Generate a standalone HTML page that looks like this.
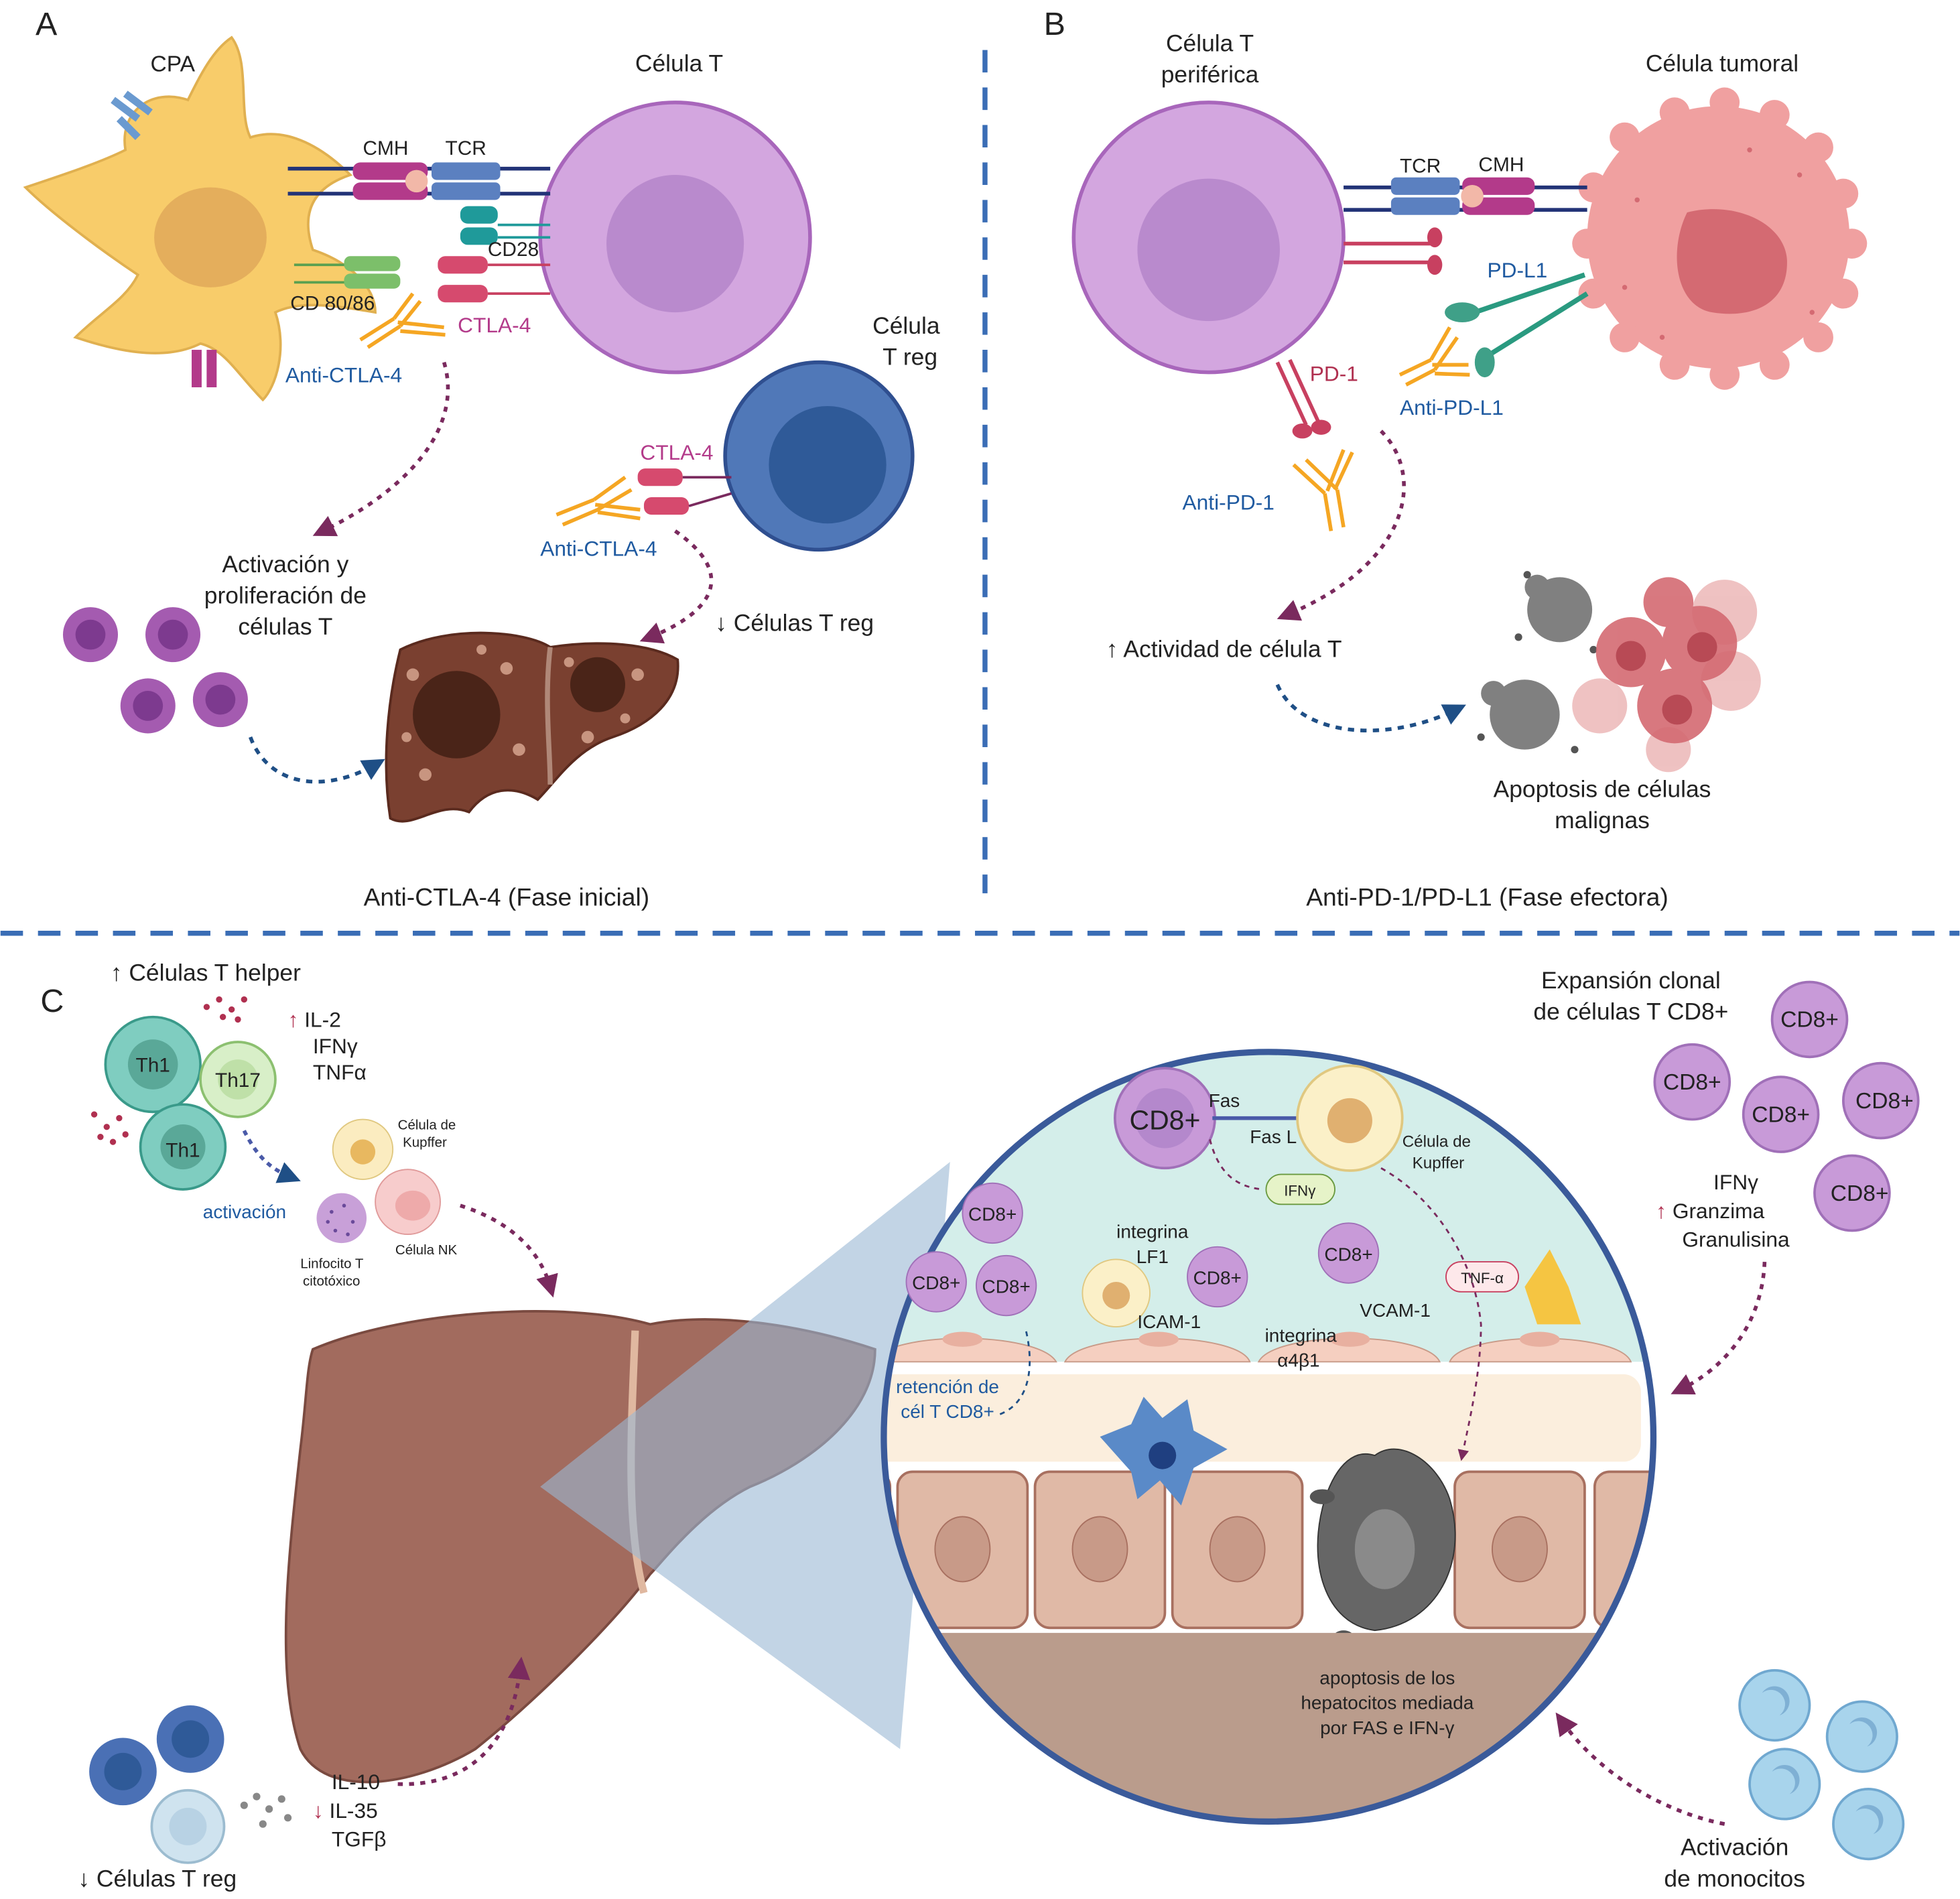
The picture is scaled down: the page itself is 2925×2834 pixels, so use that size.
<!DOCTYPE html>
<html><head><meta charset="utf-8"><style>
html,body{margin:0;padding:0;background:#fff}
svg{display:block}
text{font-family:"Liberation Sans",sans-serif;fill:#222}
</style></head><body>
<svg width="2925" height="2834" viewBox="0 0 1568 1520" xmlns="http://www.w3.org/2000/svg">
<defs>
<marker id="ap" markerWidth="6" markerHeight="6" refX="3" refY="3" orient="auto"><path d="M0,0 L6,3 L0,6 z" fill="#7a2a5e"/></marker>
<marker id="ab" markerWidth="6" markerHeight="6" refX="3" refY="3" orient="auto"><path d="M0,0 L6,3 L0,6 z" fill="#1f4f86"/></marker>
<clipPath id="cc"><circle cx="1015" cy="1150" r="308"/></clipPath>
</defs>
<rect width="1568" height="1520" fill="#fff"/>
<line x1="788" y1="40" x2="788" y2="715" stroke="#3a6db5" stroke-width="4" stroke-dasharray="18,12"/>
<line x1="0" y1="747" x2="1568" y2="747" stroke="#3a6db5" stroke-width="4" stroke-dasharray="18,12"/>
<text x="28" y="28" font-size="26">A</text>
<text x="835" y="28" font-size="26">B</text>
<text x="32" y="810" font-size="26">C</text>

<!-- Panel A -->
<path d="M185,30 C200,50 190,90 200,110 C230,100 260,120 280,140 C250,150 240,170 250,200 C280,210 300,230 300,250 C270,245 240,240 220,250 C230,280 220,310 210,320 C190,300 180,280 160,275 C130,290 90,280 60,270 C80,250 100,240 110,220 C80,200 40,170 20,150 C50,140 80,130 100,120 C95,90 120,70 150,80 C160,60 170,40 185,30 Z" fill="#f8cc6a" stroke="#e0b050" stroke-width="2"/>
<ellipse cx="168" cy="190" rx="45" ry="40" fill="#e4ae5c"/>
<path d="M90,80 L110,95 M100,75 L120,90 M95,95 L110,110" stroke="#6a9ad0" stroke-width="6"/>
<rect x="153" y="280" width="8" height="30" fill="#b33a8a"/><rect x="165" y="280" width="8" height="30" fill="#b33a8a"/>
<text x="120" y="57" font-size="18">CPA</text>
<circle cx="540" cy="190" r="108" fill="#d3a6df" stroke="#a866bb" stroke-width="3"/>
<circle cx="540" cy="195" r="55" fill="#b98acd"/>
<text x="508" y="57" font-size="19">Célula T</text>
<g stroke="#223377" stroke-width="3"><line x1="230" y1="135" x2="440" y2="135"/><line x1="230" y1="155" x2="440" y2="155"/></g>
<rect x="282" y="130" width="60" height="14" rx="6" fill="#b33a8a"/><rect x="282" y="146" width="60" height="14" rx="6" fill="#b33a8a"/>
<rect x="345" y="130" width="55" height="14" rx="4" fill="#5b80c0"/><rect x="345" y="146" width="55" height="14" rx="4" fill="#5b80c0"/>
<circle cx="333" cy="145" r="9" fill="#f2b8a8"/>
<text x="290" y="124" font-size="16">CMH</text><text x="356" y="124" font-size="16">TCR</text>
<rect x="368" y="165" width="30" height="14" rx="6" fill="#1f9a9a"/><rect x="368" y="182" width="30" height="14" rx="6" fill="#1f9a9a"/>
<g stroke="#1f9a9a" stroke-width="2"><line x1="398" y1="180" x2="440" y2="180"/><line x1="398" y1="190" x2="440" y2="190"/></g>
<text x="390" y="205" font-size="16">CD28</text>
<g stroke="#5aa050" stroke-width="2"><line x1="235" y1="212" x2="280" y2="212"/><line x1="235" y1="226" x2="280" y2="226"/></g>
<rect x="275" y="205" width="45" height="12" rx="5" fill="#7cbf6a"/><rect x="275" y="219" width="45" height="12" rx="5" fill="#7cbf6a"/>
<text x="232" y="248" font-size="16">CD 80/86</text>
<rect x="350" y="205" width="40" height="14" rx="6" fill="#d64a6e"/><rect x="350" y="228" width="40" height="14" rx="6" fill="#d64a6e"/>
<g stroke="#c84060" stroke-width="2"><line x1="390" y1="212" x2="440" y2="212"/><line x1="390" y1="235" x2="440" y2="235"/></g>
<path d="M288,272 L315,255 M294,278 L320,261 M315,255 L330,235 M320,261 L336,241 M318,258 L355,262 M320,265 L356,268" stroke="#f5a623" stroke-width="3" fill="none"/>
<text x="366" y="266" font-size="17" style="fill:#b33a8a">CTLA-4</text>
<text x="228" y="306" font-size="17" style="fill:#1f5aa0">Anti-CTLA-4</text>
<path d="M355,290 C370,340 330,390 258,425" stroke="#7a2a5e" stroke-width="3" stroke-dasharray="4,5" fill="none" marker-end="url(#ap)"/>
<text x="228" y="458" font-size="19" text-anchor="middle">Activación y</text>
<text x="228" y="483" font-size="19" text-anchor="middle">proliferación de</text>
<text x="228" y="508" font-size="19" text-anchor="middle">células T</text>
<g fill="#a45bb0"><circle cx="72" cy="508" r="22"/><circle cx="138" cy="508" r="22"/><circle cx="118" cy="565" r="22"/><circle cx="176" cy="560" r="22"/></g>
<g fill="#7d3a8f"><circle cx="72" cy="508" r="12"/><circle cx="138" cy="508" r="12"/><circle cx="118" cy="565" r="12"/><circle cx="176" cy="560" r="12"/></g>
<path d="M200,590 C215,630 260,635 300,612" stroke="#1f4f86" stroke-width="3" stroke-dasharray="5,5" fill="none" marker-end="url(#ab)"/>
<path d="M320,520 C360,500 420,505 440,518 C480,512 520,515 542,528 C545,560 520,580 490,590 C460,600 445,625 430,640 C410,628 390,630 375,650 C350,640 330,665 312,655 C305,610 310,560 320,520 Z" fill="#7a4030" stroke="#5a2a1e" stroke-width="2"/>
<path d="M440,518 C435,560 440,600 440,628" stroke="#b08878" stroke-width="4" fill="none"/>
<circle cx="365" cy="572" r="35" fill="#4a2418"/><circle cx="478" cy="548" r="22" fill="#4a2418"/>
<g fill="#c89580"><circle cx="330" cy="540" r="5"/><circle cx="405" cy="535" r="5"/><circle cx="415" cy="600" r="5"/><circle cx="340" cy="620" r="5"/><circle cx="455" cy="530" r="4"/><circle cx="510" cy="540" r="5"/><circle cx="470" cy="590" r="5"/><circle cx="500" cy="575" r="4"/><circle cx="385" cy="520" r="4"/><circle cx="325" cy="590" r="4"/></g>
<circle cx="655" cy="365" r="75" fill="#5078b8" stroke="#2f4f90" stroke-width="3"/>
<circle cx="662" cy="372" r="47" fill="#2f5a98"/>
<text x="698" y="267" font-size="19">Célula</text><text x="706" y="292" font-size="19">T reg</text>
<rect x="510" y="375" width="36" height="14" rx="6" fill="#d64a6e"/><rect x="515" y="398" width="36" height="14" rx="6" fill="#d64a6e"/>
<g stroke="#7a2a5e" stroke-width="2"><line x1="546" y1="382" x2="585" y2="382"/><line x1="551" y1="405" x2="585" y2="395"/></g>
<text x="512" y="368" font-size="17" style="fill:#b33a8a">CTLA-4</text>
<path d="M445,412 L475,400 M450,420 L478,408 M475,400 L500,382 M478,408 L505,392 M476,404 L512,408 M478,410 L512,415" stroke="#f5a623" stroke-width="3" fill="none"/>
<text x="432" y="445" font-size="17" style="fill:#1f5aa0">Anti-CTLA-4</text>
<path d="M540,425 C590,460 570,490 520,510" stroke="#7a2a5e" stroke-width="3" stroke-dasharray="4,5" fill="none" marker-end="url(#ap)"/>
<text x="572" y="505" font-size="19">↓ Células T reg</text>
<text x="405" y="725" font-size="20" text-anchor="middle">Anti-CTLA-4 (Fase inicial)</text>

<!-- Panel B -->
<circle cx="967" cy="190" r="108" fill="#d3a6df" stroke="#a866bb" stroke-width="3"/>
<circle cx="967" cy="200" r="57" fill="#b98acd"/>
<text x="968" y="41" font-size="19" text-anchor="middle">Célula T</text>
<text x="968" y="66" font-size="19" text-anchor="middle">periférica</text>
<g fill="#f0a0a0"><circle cx="1375" cy="190" r="105"/>
<circle cx="1300" cy="110" r="12"/><circle cx="1340" cy="90" r="12"/><circle cx="1380" cy="82" r="12"/><circle cx="1420" cy="92" r="12"/><circle cx="1455" cy="118" r="12"/><circle cx="1475" cy="155" r="12"/><circle cx="1482" cy="195" r="12"/><circle cx="1475" cy="235" r="12"/><circle cx="1455" cy="270" r="12"/><circle cx="1420" cy="292" r="12"/><circle cx="1380" cy="300" r="12"/><circle cx="1340" cy="292" r="12"/><circle cx="1300" cy="270" r="12"/><circle cx="1275" cy="235" r="12"/><circle cx="1270" cy="195" r="12"/><circle cx="1275" cy="150" r="12"/></g>
<path d="M1350,170 C1390,160 1430,180 1430,210 C1430,245 1400,255 1370,250 C1340,245 1335,200 1350,170 Z" fill="#d46a72"/>
<g fill="#d46a72"><circle cx="1310" cy="160" r="2"/><circle cx="1440" cy="140" r="2"/><circle cx="1300" cy="230" r="2"/><circle cx="1450" cy="250" r="2"/><circle cx="1400" cy="120" r="2"/><circle cx="1330" cy="270" r="2"/></g>
<text x="1378" y="57" font-size="19" text-anchor="middle">Célula tumoral</text>
<g stroke="#223377" stroke-width="3"><line x1="1075" y1="150" x2="1270" y2="150"/><line x1="1075" y1="168" x2="1270" y2="168"/></g>
<rect x="1113" y="142" width="55" height="14" rx="4" fill="#5b80c0"/><rect x="1113" y="158" width="55" height="14" rx="4" fill="#5b80c0"/>
<rect x="1170" y="142" width="58" height="14" rx="6" fill="#b33a8a"/><rect x="1170" y="158" width="58" height="14" rx="6" fill="#b33a8a"/>
<circle cx="1178" cy="157" r="9" fill="#f2b8a8"/>
<text x="1120" y="138" font-size="16">TCR</text><text x="1183" y="137" font-size="16">CMH</text>
<g stroke="#c84060" stroke-width="3"><line x1="1075" y1="195" x2="1148" y2="195"/><line x1="1075" y1="210" x2="1148" y2="210"/></g>
<ellipse cx="1148" cy="190" rx="6" ry="8" fill="#c84060"/><ellipse cx="1148" cy="212" rx="6" ry="8" fill="#c84060"/>
<line x1="1022" y1="290" x2="1045" y2="340" stroke="#c84060" stroke-width="3"/><line x1="1032" y1="288" x2="1055" y2="338" stroke="#c84060" stroke-width="3"/>
<ellipse cx="1042" cy="345" rx="8" ry="6" fill="#c84060"/><ellipse cx="1057" cy="342" rx="8" ry="6" fill="#c84060"/>
<text x="1048" y="305" font-size="17" style="fill:#b03050">PD-1</text>
<text x="1190" y="222" font-size="17" style="fill:#1f5aa0">PD-L1</text>
<line x1="1180" y1="250" x2="1268" y2="220" stroke="#2a9a80" stroke-width="4"/><line x1="1190" y1="285" x2="1270" y2="235" stroke="#2a9a80" stroke-width="4"/>
<ellipse cx="1170" cy="250" rx="14" ry="8" fill="#3fa088"/><ellipse cx="1188" cy="290" rx="8" ry="12" fill="#3fa088"/>
<path d="M1120,300 L1145,288 M1125,308 L1148,296 M1145,288 L1160,262 M1148,296 L1166,270 M1146,292 L1175,292 M1148,299 L1176,300" stroke="#f5a623" stroke-width="3" fill="none"/>
<text x="1120" y="332" font-size="17" style="fill:#1f5aa0">Anti-PD-L1</text>
<path d="M1065,425 L1060,395 M1075,422 L1070,392 M1060,395 L1035,372 M1070,392 L1045,368 M1062,393 L1075,360 M1068,392 L1082,362" stroke="#f5a623" stroke-width="3" fill="none"/>
<text x="946" y="408" font-size="17" style="fill:#1f5aa0">Anti-PD-1</text>
<path d="M1105,345 C1140,380 1130,450 1030,492" stroke="#7a2a5e" stroke-width="3" stroke-dasharray="4,5" fill="none" marker-end="url(#ap)"/>
<text x="885" y="526" font-size="19">↑ Actividad de célula T</text>
<path d="M1022,548 C1040,590 1110,595 1165,568" stroke="#1f4f86" stroke-width="3" stroke-dasharray="5,5" fill="none" marker-end="url(#ab)"/>
<g fill="#808080"><circle cx="1248" cy="488" r="26"/><circle cx="1220" cy="572" r="28"/><circle cx="1230" cy="470" r="10"/><circle cx="1195" cy="555" r="10"/></g>
<g fill="#555"><circle cx="1215" cy="510" r="3"/><circle cx="1222" cy="460" r="3"/><circle cx="1185" cy="590" r="3"/><circle cx="1260" cy="600" r="3"/><circle cx="1275" cy="520" r="3"/></g>
<g fill="#e8a8a8" opacity=".7"><circle cx="1380" cy="490" r="26"/><circle cx="1385" cy="545" r="24"/><circle cx="1335" cy="600" r="18"/><circle cx="1280" cy="565" r="22"/></g>
<g fill="#d46a72" opacity=".9"><circle cx="1305" cy="522" r="28"/><circle cx="1360" cy="515" r="30"/><circle cx="1340" cy="565" r="30"/><circle cx="1335" cy="482" r="20"/></g>
<g fill="#b84a55"><circle cx="1305" cy="525" r="12"/><circle cx="1362" cy="518" r="12"/><circle cx="1342" cy="568" r="12"/></g>
<text x="1282" y="638" font-size="19" text-anchor="middle">Apoptosis de células</text>
<text x="1282" y="663" font-size="19" text-anchor="middle">malignas</text>
<text x="1190" y="725" font-size="20" text-anchor="middle">Anti-PD-1/PD-L1 (Fase efectora)</text>

<!-- Panel C left -->
<text x="88" y="785" font-size="19">↑ Células T helper</text>
<circle cx="122" cy="852" r="38" fill="#7fcdc0" stroke="#3a9a8a" stroke-width="2"/><circle cx="122" cy="852" r="20" fill="#5aa898"/>
<circle cx="190" cy="864" r="30" fill="#d8efc8" stroke="#8cc070" stroke-width="2"/><circle cx="190" cy="864" r="16" fill="#bfe0a8"/>
<circle cx="146" cy="918" r="34" fill="#7fcdc0" stroke="#3a9a8a" stroke-width="2"/><circle cx="146" cy="918" r="18" fill="#5aa898"/>
<text x="122" y="858" font-size="16" text-anchor="middle">Th1</text><text x="190" y="870" font-size="16" text-anchor="middle">Th17</text><text x="146" y="926" font-size="16" text-anchor="middle">Th1</text>
<text x="230" y="822" font-size="17"><tspan style="fill:#b03050">↑</tspan> IL-2</text>
<text x="250" y="843" font-size="17">IFNγ</text><text x="250" y="864" font-size="17">TNFα</text>
<g fill="#b03050"><circle cx="165" cy="806" r="2.5"/><circle cx="175" cy="800" r="2.5"/><circle cx="185" cy="808" r="2.5"/><circle cx="195" cy="800" r="2.5"/><circle cx="178" cy="814" r="2.5"/><circle cx="190" cy="816" r="2.5"/><circle cx="75" cy="892" r="2.5"/><circle cx="85" cy="902" r="2.5"/><circle cx="95" cy="895" r="2.5"/><circle cx="80" cy="910" r="2.5"/><circle cx="100" cy="908" r="2.5"/><circle cx="90" cy="914" r="2.5"/></g>
<path d="M195,905 C205,925 215,935 232,942" stroke="#4a5aa8" stroke-width="3" stroke-dasharray="4,4" fill="none" marker-end="url(#ab)"/>
<text x="162" y="975" font-size="15" style="fill:#1f5aa0">activación</text>
<circle cx="290" cy="920" r="24" fill="#fbecc0" stroke="#e0c880"/><circle cx="290" cy="922" r="10" fill="#e8b860"/>
<circle cx="326" cy="962" r="26" fill="#f7cccc" stroke="#e09a9a"/><ellipse cx="330" cy="965" rx="14" ry="12" fill="#eeaaaa"/>
<circle cx="273" cy="975" r="20" fill="#c8a0d8"/>
<g fill="#6a4a9a"><circle cx="265" cy="970" r="1.5"/><circle cx="275" cy="965" r="1.5"/><circle cx="282" cy="978" r="1.5"/><circle cx="268" cy="985" r="1.5"/><circle cx="278" cy="988" r="1.5"/><circle cx="262" cy="978" r="1.5"/></g>
<text x="318" y="904" font-size="11">Célula de</text><text x="322" y="918" font-size="11">Kupffer</text>
<text x="316" y="1004" font-size="11">Célula NK</text>
<text x="240" y="1015" font-size="11">Linfocito T</text><text x="242" y="1029" font-size="11">citotóxico</text>
<path d="M368,965 C400,975 430,995 440,1030" stroke="#7a2a5e" stroke-width="3" stroke-dasharray="4,5" fill="none" marker-end="url(#ap)"/>
<path d="M250,1080 C320,1050 450,1040 520,1060 C570,1050 640,1060 700,1080 C700,1130 650,1170 600,1190 C560,1210 530,1250 520,1260 C490,1300 430,1360 380,1400 C330,1430 260,1440 240,1400 C220,1340 230,1250 240,1160 C245,1120 245,1095 250,1080 Z" fill="#a26b5e" stroke="#7a4a40" stroke-width="2"/>
<path d="M508,1065 C505,1140 500,1220 515,1275" stroke="#e0b8a0" stroke-width="6" fill="none"/>
<polygon points="432,1190 760,930 720,1400" fill="#9ab8d4" opacity=".6"/>
<g fill="#4a70b5"><circle cx="98" cy="1418" r="27"/><circle cx="152" cy="1392" r="27"/></g>
<g fill="#2f5a98"><circle cx="98" cy="1418" r="15"/><circle cx="152" cy="1392" r="15"/></g>
<circle cx="150" cy="1462" r="29" fill="#cfe3ef" stroke="#9cbcd0" stroke-width="2"/><circle cx="150" cy="1462" r="15" fill="#b8d2e4"/>
<g fill="#888"><circle cx="195" cy="1445" r="3"/><circle cx="205" cy="1438" r="3"/><circle cx="215" cy="1448" r="3"/><circle cx="225" cy="1440" r="3"/><circle cx="210" cy="1460" r="3"/><circle cx="230" cy="1455" r="3"/></g>
<text x="265" y="1432" font-size="17">IL-10</text>
<text x="250" y="1455" font-size="17"><tspan style="fill:#b03050">↓</tspan> IL-35</text>
<text x="265" y="1478" font-size="17">TGFβ</text>
<path d="M318,1428 C380,1430 410,1390 416,1335" stroke="#7a2a5e" stroke-width="3" stroke-dasharray="4,5" fill="none" marker-end="url(#ap)"/>
<text x="62" y="1510" font-size="19">↓ Células T reg</text>

<!-- big circle -->
<g clip-path="url(#cc)">
<rect x="700" y="840" width="640" height="620" fill="#fff"/>
<rect x="700" y="840" width="640" height="250" fill="#d4eeea"/>
<rect x="688" y="1100" width="625" height="70" rx="14" fill="#fbeedd"/>
<g fill="#e0b9a6" stroke="#a87060" stroke-width="2">
<rect x="660" y="1178" width="52" height="125" rx="12"/><rect x="718" y="1178" width="104" height="125" rx="12"/><rect x="828" y="1178" width="104" height="125" rx="12"/><rect x="938" y="1178" width="104" height="125" rx="12"/><rect x="1164" y="1178" width="104" height="125" rx="12"/><rect x="1276" y="1178" width="60" height="125" rx="12"/></g>
<g fill="#c89a88" stroke="#a87060"><ellipse cx="770" cy="1240" rx="22" ry="26"/><ellipse cx="880" cy="1240" rx="22" ry="26"/><ellipse cx="990" cy="1240" rx="22" ry="26"/><ellipse cx="1216" cy="1240" rx="22" ry="26"/></g>
<path d="M1060,1200 C1070,1170 1085,1160 1100,1165 C1120,1150 1150,1170 1160,1200 C1175,1250 1150,1300 1100,1305 C1060,1300 1045,1250 1060,1200 Z" fill="#666" stroke="#333"/>
<ellipse cx="1108" cy="1240" rx="24" ry="32" fill="#8a8a8a"/>
<ellipse cx="1058" cy="1198" rx="10" ry="6" fill="#555"/><ellipse cx="1075" cy="1310" rx="8" ry="5" fill="#555"/>
<rect x="690" y="1307" width="650" height="160" fill="#ba9c8c"/>
<g fill="#f5cfc0" stroke="#c89a88"><path d="M698,1090 C710,1065 830,1065 845,1090 Z"/><path d="M852,1090 C865,1065 990,1065 1000,1090 Z"/><path d="M1007,1090 C1020,1065 1140,1065 1152,1090 Z"/><path d="M1160,1090 C1170,1065 1295,1065 1305,1090 Z"/></g>
<g fill="#e8b0a0"><ellipse cx="770" cy="1072" rx="16" ry="6"/><ellipse cx="927" cy="1072" rx="16" ry="6"/><ellipse cx="1080" cy="1072" rx="16" ry="6"/><ellipse cx="1232" cy="1072" rx="16" ry="6"/></g>
<path d="M880,1150 L905,1140 L915,1118 L930,1135 L950,1120 L955,1145 L982,1160 L955,1175 L945,1205 L928,1185 L910,1200 L905,1178 Z" fill="#5a8ac8"/><circle cx="930" cy="1165" r="11" fill="#1f3f80"/>
</g>
<circle cx="1015" cy="1150" r="308" fill="none" stroke="#3a5a9a" stroke-width="5"/>
<circle cx="932" cy="895" r="40" fill="#c89ad8" stroke="#a070b8" stroke-width="2"/><circle cx="932" cy="895" r="24" fill="#b488cc"/>
<text x="932" y="904" font-size="22" text-anchor="middle">CD8+</text>
<text x="967" y="886" font-size="15">Fas</text><text x="1000" y="915" font-size="15">Fas L</text>
<line x1="970" y1="895" x2="1040" y2="895" stroke="#4a5aa8" stroke-width="3"/>
<circle cx="1080" cy="895" r="42" fill="#fbf0c8" stroke="#e0c880" stroke-width="2"/><circle cx="1080" cy="897" r="18" fill="#e0b070"/>
<text x="1122" y="918" font-size="13">Célula de</text><text x="1130" y="935" font-size="13">Kupffer</text>
<path d="M968,912 C975,940 990,950 1010,952" stroke="#7a2a5e" stroke-width="1.5" stroke-dasharray="4,4" fill="none"/>
<rect x="1013" y="940" width="55" height="24" rx="12" fill="#e6f3c8" stroke="#6a9a40"/><text x="1040" y="957" font-size="12" text-anchor="middle">IFNγ</text>
<rect x="1157" y="1010" width="58" height="24" rx="12" fill="#fde8ea" stroke="#c84060"/><text x="1186" y="1027" font-size="12" text-anchor="middle">TNF-α</text>
<path d="M1240,1000 L1255,1030 L1265,1060 L1230,1060 L1220,1030 Z" fill="#f5c542"/>
<g fill="#c89ad8" stroke="#a070b8"><circle cx="794" cy="971" r="24"/><circle cx="749" cy="1026" r="24"/><circle cx="805" cy="1029" r="24"/><circle cx="974" cy="1022" r="24"/><circle cx="1079" cy="1003" r="24"/></g>
<g font-size="15" text-anchor="middle"><text x="794" y="977">CD8+</text><text x="749" y="1032">CD8+</text><text x="805" y="1035">CD8+</text><text x="974" y="1028">CD8+</text><text x="1079" y="1009">CD8+</text></g>
<circle cx="893" cy="1035" r="27" fill="#fbf0c8" stroke="#e0c880"/><circle cx="893" cy="1037" r="11" fill="#e0b070"/>
<text x="922" y="991" font-size="15" text-anchor="middle">integrina</text><text x="922" y="1011" font-size="15" text-anchor="middle">LF1</text>
<text x="910" y="1063" font-size="15">ICAM-1</text>
<text x="1088" y="1054" font-size="15">VCAM-1</text>
<text x="1012" y="1074" font-size="15">integrina</text><text x="1022" y="1094" font-size="15">α4β1</text>
<text x="758" y="1115" font-size="15" text-anchor="middle" style="fill:#1f5aa0">retención de</text>
<text x="758" y="1135" font-size="15" text-anchor="middle" style="fill:#1f5aa0">cél T CD8+</text>
<path d="M800,1132 C830,1120 825,1080 820,1062" stroke="#1f4f86" stroke-width="1.5" stroke-dasharray="4,4" fill="none"/>
<text x="1110" y="1348" font-size="15" text-anchor="middle">apoptosis de los</text>
<text x="1110" y="1368" font-size="15" text-anchor="middle">hepatocitos mediada</text>
<text x="1110" y="1388" font-size="15" text-anchor="middle">por FAS e IFN-γ</text>
<path d="M1105,935 C1150,960 1180,1010 1185,1060 C1185,1100 1175,1140 1170,1165" stroke="#7a2a5e" stroke-width="1.5" stroke-dasharray="4,4" fill="none" marker-end="url(#ap)"/>

<!-- right -->
<text x="1305" y="791" font-size="19" text-anchor="middle">Expansión clonal</text>
<text x="1305" y="816" font-size="19" text-anchor="middle">de células T CD8+</text>
<g fill="#c89ad8" stroke="#a070b8" stroke-width="2"><circle cx="1448" cy="816" r="30"/><circle cx="1354" cy="866" r="30"/><circle cx="1425" cy="892" r="30"/><circle cx="1505" cy="881" r="30"/><circle cx="1482" cy="955" r="30"/></g>
<g font-size="18" text-anchor="middle"><text x="1448" y="822">CD8+</text><text x="1354" y="872">CD8+</text><text x="1425" y="898">CD8+</text><text x="1508" y="887">CD8+</text><text x="1488" y="961">CD8+</text></g>
<text x="1389" y="952" font-size="17" text-anchor="middle">IFNγ</text>
<text x="1325" y="975" font-size="17"><tspan style="fill:#b03050">↑</tspan> Granzima</text>
<text x="1389" y="998" font-size="17" text-anchor="middle">Granulisina</text>
<path d="M1412,1010 C1410,1060 1380,1095 1345,1112" stroke="#7a2a5e" stroke-width="3" stroke-dasharray="4,5" fill="none" marker-end="url(#ap)"/>
<g fill="#a8d4ec" stroke="#70a8d0" stroke-width="2"><circle cx="1420" cy="1365" r="28"/><circle cx="1490" cy="1390" r="28"/><circle cx="1428" cy="1428" r="28"/><circle cx="1495" cy="1460" r="28"/></g>
<g fill="#7fb0d4"><path d="M1410,1355 a12,12 0 1,1 14,18 a6,6 0 1,0 -14,-18z"/><path d="M1480,1380 a12,12 0 1,1 14,18 a6,6 0 1,0 -14,-18z"/><path d="M1418,1418 a12,12 0 1,1 14,18 a6,6 0 1,0 -14,-18z"/><path d="M1485,1450 a12,12 0 1,1 14,18 a6,6 0 1,0 -14,-18z"/></g>
<path d="M1380,1460 C1330,1450 1280,1420 1250,1378" stroke="#7a2a5e" stroke-width="3" stroke-dasharray="4,5" fill="none" marker-end="url(#ap)"/>
<text x="1388" y="1485" font-size="19" text-anchor="middle">Activación</text>
<text x="1388" y="1510" font-size="19" text-anchor="middle">de monocitos</text>
</svg>
</body></html>
